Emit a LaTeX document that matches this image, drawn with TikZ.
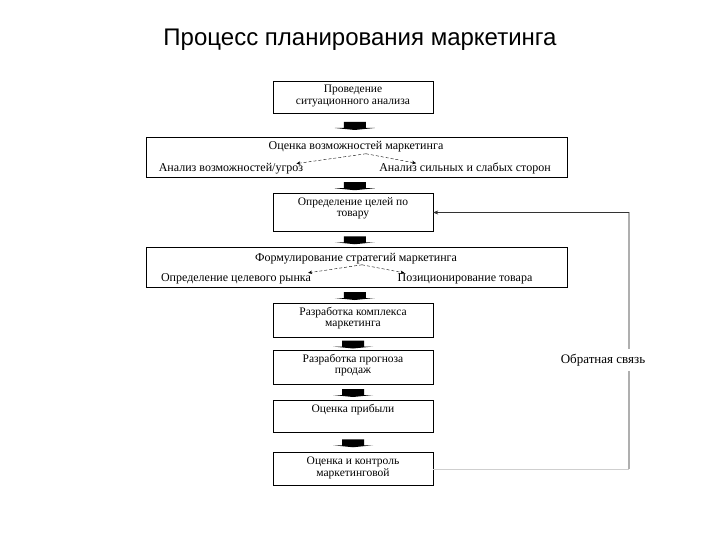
\documentclass[tikz,border=0pt]{standalone}
\usepackage{fontspec}
\setmainfont{Liberation Serif}
\newfontfamily\titlefont{Liberation Sans}
\usetikzlibrary{arrows.meta, positioning, calc}
\definecolor{svyaz}{RGB}{175,175,175}
\newcommand{\boxtext}[2]{\parbox[c][#1][t]{156pt}{\centering\rule{0pt}{12pt}#2}}
\tikzset{
  shag/.style={rectangle, draw, thin, inner sep=0pt, minimum width=160pt,
               font=\fontsize{11.5}{11.5}\selectfont},
  shirokij/.style={rectangle, draw, thin, inner sep=0pt, minimum width=421pt,
                   minimum height=40pt},
  podpis/.style={inner sep=1pt, anchor=base, font=\fontsize{12}{12}\selectfont},
  punktir/.style={-{Stealth[length=4pt, width=3.5pt]}, densely dashed},
  obratno/.style={draw=svyaz, line width=1.6pt}
}

\begin{document}
\begin{tikzpicture}[x=1pt, y=-1pt]
    \useasboundingbox (0,0) rectangle (720,540);
    \node[font=\titlefont\fontsize{24}{28}\selectfont] (title) at (360,40)
          {Процесс планирования маркетинга};
    % main chain
    \node[shag] (b1) at (353,97) {\boxtext{32pt}{Проведение\\ситуационного анализа}};
    \node[shirokij] (b2) at (356.5,157) {};
    \node[podpis] (b2t) at (356,150) {Оценка возможностей маркетинга};
    \node[podpis] (b2l) at (231,172) {Анализ возможностей/угроз};
    \node[podpis] (b2r) at (465,172) {Анализ сильных и слабых сторон};
    \node[shag] (b3) at (353,212.5) {\boxtext{38pt}{Определение целей по\\товару}};
    \node[shirokij] (b4) at (356.5,267) {};
    \node[podpis] (b4t) at (356,261) {Формулирование стратегий маркетинга};
    \node[podpis] (b4l) at (236,281) {Определение целевого рынка};
    \node[podpis] (b4r) at (465,281) {Позиционирование товара};
    \node[shag] (b5) at (353,320) {\boxtext{34pt}{Разработка комплекса\\маркетинга}};
    \node[shag] (b6) at (353,367) {\boxtext{34pt}{Разработка прогноза\\продаж}};
    \node[shag] (b7) at (353,416) {\boxtext{32pt}{Оценка прибыли}};
    \node[shag] (b8) at (353,469) {\boxtext{33pt}{Оценка и контроль\\маркетинговой}};
    % dashed branches
    \draw[punktir] ($(b2t.south)+(10,0)$) -- ($(b2l.north east)+(-8,1)$);
    \draw[punktir] ($(b2t.south)+(10,0)$) -- ($(b2r.north west)+(38,1)$);
    \draw[punktir] ($(b4t.south)+(6,0)$) -- ($(b4l.north east)+(-4,1)$);
    \draw[punktir] ($(b4t.south)+(6,0)$) -- ($(b4r.north west)+(8,1)$);
    % block arrows
    \foreach \a/\b in {b1/b2, b2/b3, b3/b4, b4/b5, b5/b6, b6/b7, b7/b8} {
      \coordinate (m) at ($(\a.south)!0.5!(\b.north)$);
      \fill (m) +(-11,-3) rectangle +(11,3)
            +(-20,3) -- +(20,3) -- +(0,5) -- cycle;
    }
    % feedback
    \coordinate (fbniz) at (629,469);
    \coordinate (fbverh) at (629,212.5);
    \draw[svyaz!60, thin] (b8.east) -- (fbniz);
    \draw[obratno] (fbniz) -- (fbverh);
    \draw[-{Stealth[length=5pt, width=4pt]}, black!80] (fbverh) -- (b3.east);
    \node[podpis, anchor=center, font=\fontsize{13}{13}\selectfont, fill=white,
          inner ysep=5pt] (fb) at (603,360) {Обратная связь};
\end{tikzpicture}
\end{document}
